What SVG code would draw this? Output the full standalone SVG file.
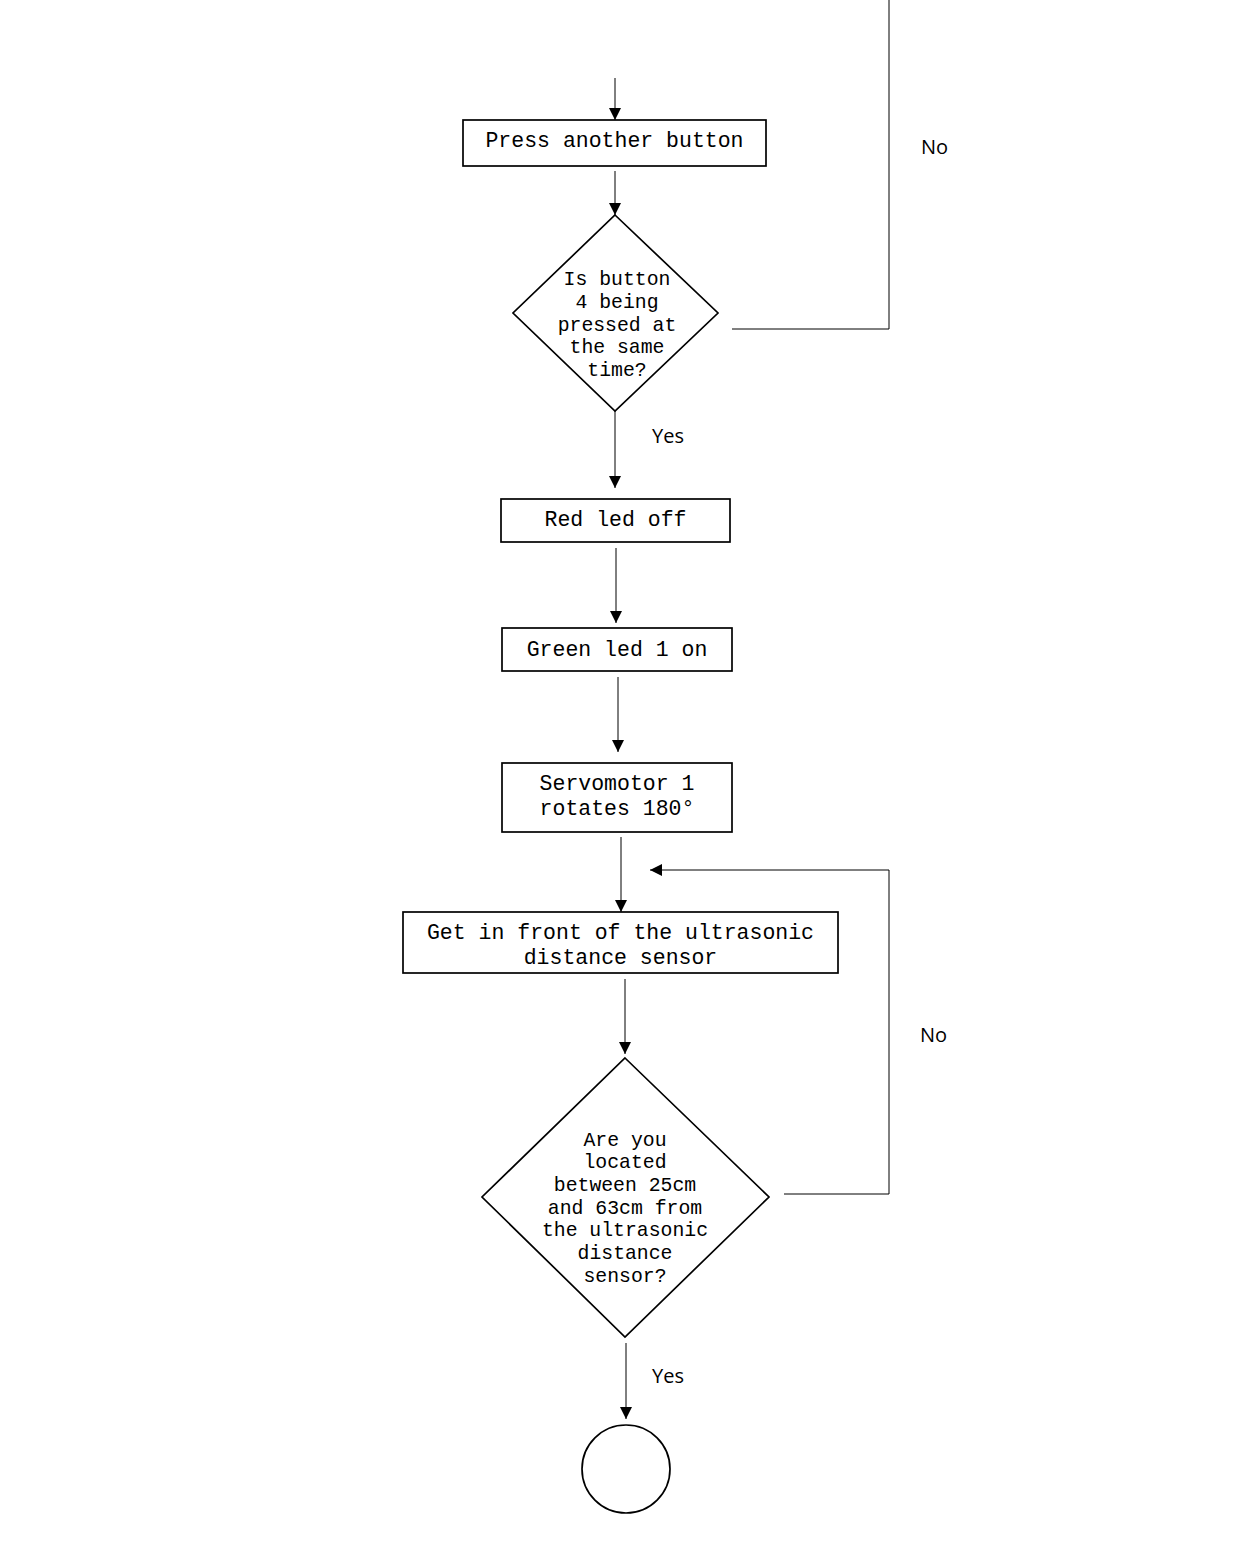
<svg xmlns="http://www.w3.org/2000/svg" width="1250" height="1560" viewBox="0 0 1250 1560">
<defs>
<marker id="arr" markerUnits="userSpaceOnUse" markerWidth="12" markerHeight="14" refX="12" refY="6" orient="auto">
<path d="M0,0 L12,6 L0,12 Z" fill="#000"/>
</marker>
</defs>
<style>
.shape{fill:#fff;stroke:#000;stroke-width:1.7}
.t{font-family:"Liberation Mono","Courier New",monospace;font-size:21.5px;fill:#000;text-anchor:middle}
.td{font-family:"Liberation Mono","Courier New",monospace;font-size:19.8px;fill:#000;text-anchor:middle}
.lbl{font-family:"Open Sans","Liberation Sans",sans-serif;font-size:20px;fill:#000}
.c{fill:none;stroke:#000;stroke-width:1}
</style>
<rect width="1250" height="1560" fill="#fff"/>
<g id="connectors">
<line class="c" x1="615" y1="78" x2="615" y2="120" marker-end="url(#arr)"/>
<line class="c" x1="615" y1="171" x2="615" y2="215" marker-end="url(#arr)"/>
<polyline class="c" points="732,329 889,329 889,0"/>
<line class="c" x1="615" y1="411" x2="615" y2="488" marker-end="url(#arr)"/>
<line class="c" x1="616" y1="548" x2="616" y2="623" marker-end="url(#arr)"/>
<line class="c" x1="618" y1="677" x2="618" y2="752" marker-end="url(#arr)"/>
<line class="c" x1="621" y1="837" x2="621" y2="912" marker-end="url(#arr)"/>
<line class="c" x1="625" y1="979" x2="625" y2="1054" marker-end="url(#arr)"/>
<polyline class="c" points="784,1194 889,1194 889,870 650,870" marker-end="url(#arr)"/>
<line class="c" x1="626" y1="1343" x2="626" y2="1419" marker-end="url(#arr)"/>
<text class="lbl" x="921" y="154">No</text>
<text class="lbl" x="652" y="443">Yes</text>
<text class="lbl" x="920" y="1042">No</text>
<text class="lbl" x="652" y="1383">Yes</text>
</g>
<g id="n1">
<rect class="shape" x="463" y="120" width="303" height="46"/>
<text class="t" x="614.5" y="147">Press another button</text>
</g>
<g id="n2">
<polygon class="shape" points="615,215 718,313 615,411 513,313"/>
<text class="td" x="617" y="285">Is button</text>
<text class="td" x="617" y="308">4 being</text>
<text class="td" x="617" y="331">pressed at</text>
<text class="td" x="617" y="353">the same</text>
<text class="td" x="617" y="376">time?</text>
</g>
<g id="n3">
<rect class="shape" x="501" y="499" width="229" height="43"/>
<text class="t" x="615.5" y="526">Red led off</text>
</g>
<g id="n4">
<rect class="shape" x="502" y="628" width="230" height="43"/>
<text class="t" x="617" y="656">Green led 1 on</text>
</g>
<g id="n5">
<rect class="shape" x="502" y="763" width="230" height="69"/>
<text class="t" x="617" y="790">Servomotor 1</text>
<text class="t" x="617" y="815">rotates 180°</text>
</g>
<g id="n6">
<rect class="shape" x="403" y="912" width="435" height="61"/>
<text class="t" x="620.5" y="939">Get in front of the ultrasonic</text>
<text class="t" x="620.5" y="964">distance sensor</text>
</g>
<g id="n7">
<polygon class="shape" points="625,1058 769,1197 625,1337 482,1197"/>
<text class="td" x="625" y="1146">Are you</text>
<text class="td" x="625" y="1168">located</text>
<text class="td" x="625" y="1191">between 25cm</text>
<text class="td" x="625" y="1214">and 63cm from</text>
<text class="td" x="625" y="1236">the ultrasonic</text>
<text class="td" x="625" y="1259">distance</text>
<text class="td" x="625" y="1282">sensor?</text>
</g>
<g id="n8">
<circle class="shape" cx="626" cy="1469" r="44"/>
</g>
</svg>
